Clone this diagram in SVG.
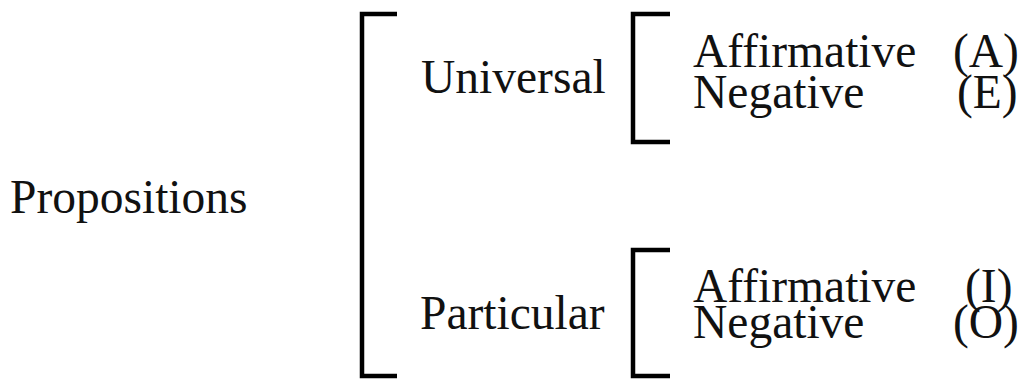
<svg xmlns="http://www.w3.org/2000/svg" width="1023" height="379" viewBox="0 0 1023 379">
<style>
text{font-family:"Liberation Serif","Times New Roman",serif;font-size:47.5px;fill:#111}
.br{fill:none;stroke:#000;stroke-width:4.5}
</style>
<rect width="1023" height="379" fill="#fff"/>
<g id="connectors">
<path class="br" d="M397,14 H362 V376 H397"/>
<path class="br" d="M670,14 H633 V142 H670"/>
<path class="br" d="M670,250 H633 V376 H670"/>
</g>
<g id="propositions"><text x="10" y="213">Propositions</text></g>
<g id="universal"><text x="421" y="93">Universal</text></g>
<g id="particular"><text x="420" y="329">Particular</text></g>
<g id="univ-aff"><text x="693" y="67">Affirmative</text><text x="953" y="67">(A)</text></g>
<g id="univ-neg"><text x="693" y="108">Negative</text><text x="957" y="108">(E)</text></g>
<g id="part-aff"><text x="693" y="302">Affirmative</text><text x="965" y="302">(I)</text></g>
<g id="part-neg"><text x="693" y="338">Negative</text><text x="953" y="338">(O)</text></g>
</svg>
